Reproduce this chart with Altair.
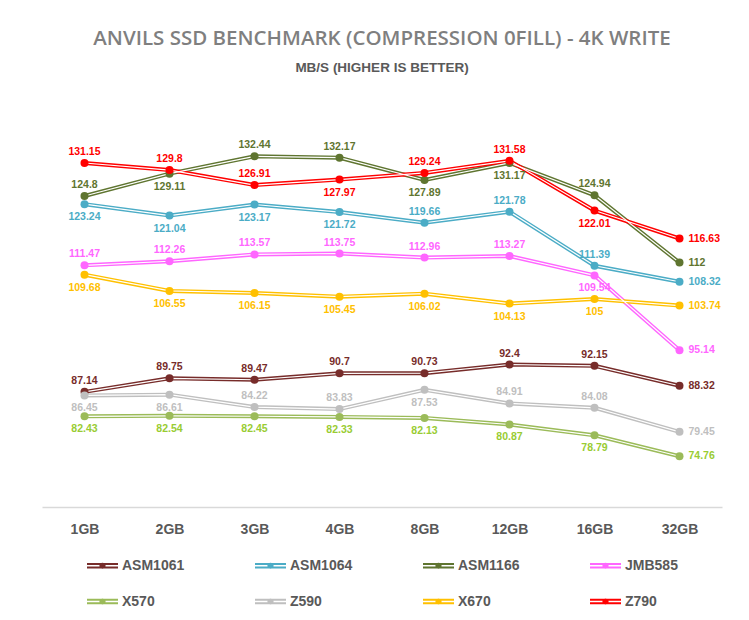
import altair as alt
import pandas as pd

sizes = ["1GB", "2GB", "3GB", "4GB", "8GB", "12GB", "16GB", "32GB"]
series = ["ASM1061", "ASM1064", "ASM1166", "JMB585", "X570", "Z590", "X670", "Z790"]

asm1061 = [87.14, 89.75, 89.47, 90.7, 90.73, 92.4, 92.15, 88.32]
asm1064 = [123.24, 121.04, 123.17, 121.72, 119.66, 121.78, 111.39, 108.32]
asm1166 = [124.8, 129.11, 132.44, 132.17, 127.89, 131.17, 124.94, 112]
jmb585 = [111.47, 112.26, 113.57, 113.75, 112.96, 113.27, 109.54, 95.14]
x570 = [82.43, 82.54, 82.45, 82.33, 82.13, 80.87, 78.79, 74.76]
z590 = [86.45, 86.61, 84.22, 83.83, 87.53, 84.91, 84.08, 79.45]
x670 = [109.68, 106.55, 106.15, 105.45, 106.02, 104.13, 105, 103.74]
z790 = [131.15, 129.8, 126.91, 127.97, 129.24, 131.58, 122.01, 116.63]

values = [asm1061, asm1064, asm1166, jmb585, x570, z590, x670, z790]

# label placement (t = above, b = below, r = right)
placement = {
    "ASM1061": "tttttttr",
    "ASM1064": "bbbbtttr",
    "ASM1166": "tbttbbtr",
    "JMB585": "ttttttbr",
    "X570": "bbbbbbbr",
    "Z590": "bbttbttr",
    "X670": "bbbbbbbr",
    "Z790": "tttbttbr",
}

line_colors = ["#772C2A", "#4BACC6", "#5F7530", "#FF66FF", "#9BBB59", "#BFBFBF", "#FFC000", "#FF0000"]
label_colors = ["#772C2A", "#4BACC6", "#5F7530", "#FF66FF", "#99CC33", "#BFBFBF", "#FFC000", "#FF0000"]

rows = []
for si, s in enumerate(series):
    for i, sz in enumerate(sizes):
        rows.append({
            "series": s,
            "size": sz,
            "value": values[si][i],
            "pos": placement[s][i],
            "tcolor": label_colors[si],
        })
df = pd.DataFrame(rows)

FONT = "Liberation Sans"
color_scale = alt.Scale(domain=series, range=line_colors)

sym_path = ("M-1,-0.17H1V-0.05H-1Z M-1,0.05H1V0.17H-1Z "
            "M0.2,0A0.2,0.2 0 1 1 -0.2,0A0.2,0.2 0 1 1 0.2,0Z")

legend = alt.Legend(orient="none", legendX=45, legendY=459, direction="horizontal",
                    columns=4, title=None, symbolType=sym_path,
                    symbolSize=961, symbolStrokeWidth=0,
                    symbolOpacity=1,
                    labelFont=FONT, labelFontSize=14,
                    labelFontWeight="bold", labelColor="#595959",
                    labelOffset=4, columnPadding=70, rowPadding=13)

base = alt.Chart(df).encode(
    x=alt.X("size:N", sort=sizes,
            scale=alt.Scale(type="point", padding=0.5),
            axis=alt.Axis(title=None, labelAngle=0, ticks=False, grid=False,
                          domainColor="#D9D9D9", domainWidth=1.5,
                          labelFont=FONT, labelFontSize=14, labelFontWeight="bold",
                          labelColor="#595959", labelPadding=15)),
    y=alt.Y("value:Q", scale=alt.Scale(domain=[65, 145], nice=False, zero=False), axis=None),
)

color_enc = alt.Color("series:N", scale=color_scale, legend=legend)

lines = base.mark_line(strokeWidth=4).encode(color=color_enc)
white = base.mark_line(strokeWidth=1.2, color="white").encode(detail="series:N")
points = base.mark_point(filled=True, size=64, opacity=1, strokeWidth=0).encode(color=color_enc)

def labels(pos, **kw):
    return base.transform_filter(alt.datum.pos == pos).mark_text(
        font=FONT, fontSize=10.5, fontWeight="bold", **kw
    ).encode(text=alt.Text("value:Q"), color=alt.Color("tcolor:N", scale=None))

t_above = labels("t", dy=-11, baseline="middle", align="center")
t_below = labels("b", dy=13, baseline="middle", align="center")
t_right = labels("r", dx=9, baseline="middle", align="left")

chart = alt.layer(lines, white, points, t_above, t_below, t_right).properties(
    width=680,
    height=416,
    background="white",
    autosize=alt.AutoSizeParams(type="none"),
    padding={"left": 42, "top": 91, "right": 27, "bottom": 113},
    title=alt.Title(
        text="ANVILS SSD BENCHMARK (COMPRESSION 0FILL) - 4K WRITE",
        subtitle="MB/S (HIGHER IS BETTER)",
        anchor="middle",
        font="Open Sans", fontSize=20.5, fontWeight=600, color="#7F7F7F",
        subtitleFont=FONT, subtitleFontSize=13.5,
        subtitleFontWeight="bold", subtitleColor="#595959",
        subtitlePadding=11, offset=17,
    ),
).configure_view(strokeWidth=0, stroke=None)

chart.save("out.html", embed_options={"renderer": "svg", "actions": False})
